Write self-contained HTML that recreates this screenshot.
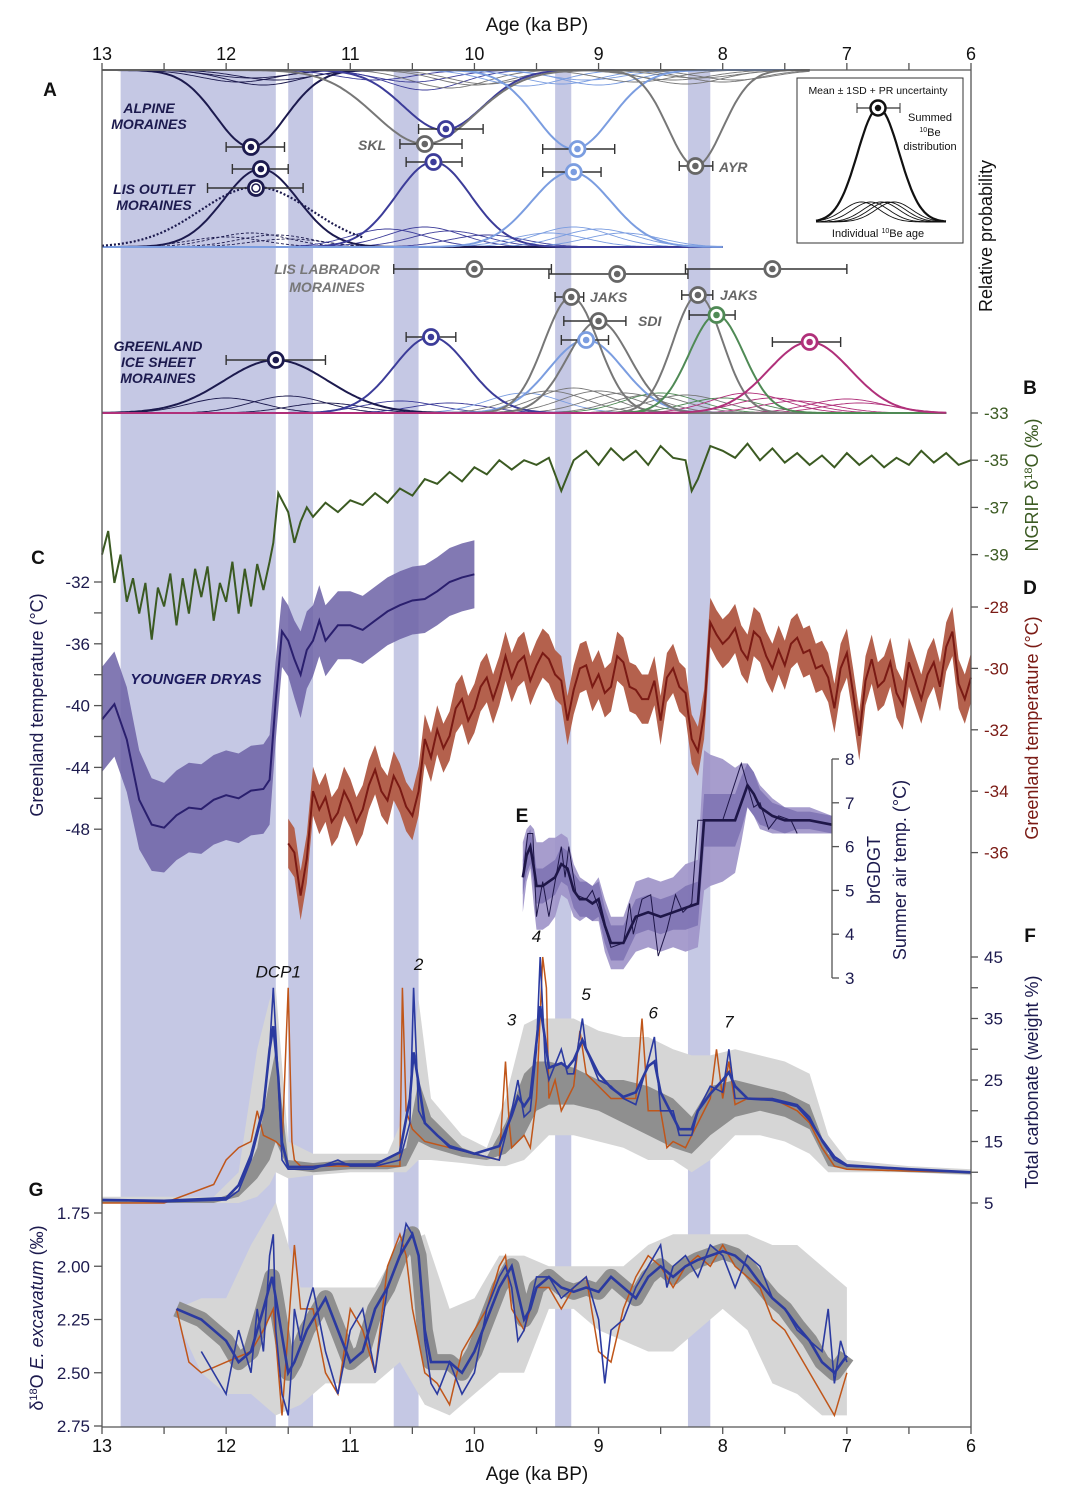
<!DOCTYPE html>
<html><head><meta charset="utf-8"><style>
html,body{margin:0;padding:0;background:#fff}
svg{display:block;font-family:"Liberation Sans",sans-serif}
</style></head><body>
<svg id="fig" width="1076" height="1502" viewBox="0 0 1076 1502" xmlns="http://www.w3.org/2000/svg"></svg>
<script>
// ---------- DATA ----------
const bandStart=[12.85,11.5,10.65,9.35,8.28];
const bandEnd=[11.6,11.3,10.45,9.22,8.1];
const alpMu=[11.8,10.25,10.4,9.2,8.22];
const alpSd=[0.28,0.32,0.4,0.3,0.22];
const alpAmp=[0.77,0.6,0.74,0.79,0.96];
const alpCol=["#1c1a4e","#3c3c99","#777777","#7b9de0","#777777"];
const alpThinMu=[11.9,11.7,11.6,11.8,10.8,10.4,10.2,10.0,10.5,9.9,9.6,9.3,9.0,9.1,8.7,8.4,8.3,8.0,7.9,8.2];
const alpThinAmp=[0.12,0.15,0.1,0.08,0.1,0.2,0.18,0.15,0.12,0.14,0.16,0.14,0.15,0.1,0.12,0.1,0.14,0.12,0.1,0.08];
const alpThinCol=["#1c1a4e","#1c1a4e","#1c1a4e","#1c1a4e","#3c3c99","#3c3c99","#777777","#777777","#3c3c99","#777777","#7b9de0","#7b9de0","#7b9de0","#7b9de0","#777777","#777777","#777777","#777777","#777777","#777777"];
const lisMu=[11.72,10.33,9.22];
const lisSd=[0.3,0.3,0.32];
const lisAmp=[0.78,0.85,0.75];
const lisCol=["#1c1a4e","#3c3c99","#7b9de0"];
const lisThinMu=[12.0,11.8,11.6,11.5,10.7,10.4,10.2,9.9,9.4,9.2,9.0,8.8];
const lisThinAmp=[0.1,0.14,0.12,0.08,0.18,0.2,0.16,0.12,0.14,0.2,0.18,0.14];
const lisThinCol=["#1c1a4e","#1c1a4e","#1c1a4e","#1c1a4e","#3c3c99","#3c3c99","#3c3c99","#3c3c99","#7b9de0","#7b9de0","#7b9de0","#7b9de0"];
const grMu=[11.6,10.35,9.1,9.22,9.0,8.2,8.05,7.3];
const grSd=[0.42,0.3,0.3,0.22,0.25,0.2,0.22,0.33];
const grAmp=[0.53,0.76,0.73,1.16,0.92,1.18,0.98,0.71];
const grCol=["#1c1a4e","#3c3c99","#7b9de0","#777777","#777777","#777777","#4f8a55","#b0307a"];
const grThinMu=[12.0,11.5,11.2,10.6,10.2,9.6,9.4,9.2,9.0,8.8,8.6,8.5,8.3,8.0,7.8,7.6,7.4,7.0,6.9];
const grThinAmp=[0.15,0.17,0.1,0.12,0.1,0.2,0.22,0.25,0.22,0.2,0.18,0.2,0.18,0.15,0.2,0.15,0.12,0.14,0.1];
const grThinCol=["#1c1a4e","#1c1a4e","#1c1a4e","#3c3c99","#3c3c99","#7b9de0","#777777","#777777","#777777","#777777","#777777","#4f8a55","#777777","#4f8a55","#b0307a","#b0307a","#b0307a","#b0307a","#b0307a"];
const mkAge=[11.8,10.23,10.4,9.17,8.22,11.72,11.76,10.33,9.2,10.0,8.85,7.6,11.6,10.35,9.1,9.22,9.0,8.2,8.05,7.3];
const mkY=[147,129,144,149,166,169,188,162,172,269,274,269,360,337,340,297,321,295,315,342];
const mkErrL=[12.0,10.45,10.6,9.45,8.35,11.95,12.15,10.55,9.45,10.65,9.4,8.3,12.0,10.55,9.3,9.35,9.28,8.33,8.27,7.6];
const mkErrR=[11.53,9.93,10.1,8.87,8.08,11.5,11.38,10.1,8.98,9.38,8.28,7.0,11.2,10.15,8.92,9.12,8.78,8.08,7.9,7.05];
const mkCol=["#1c1a4e","#3c3c99","#666","#7b9de0","#666","#1c1a4e","#1c1a4e","#3c3c99","#7b9de0","#666","#666","#666","#1c1a4e","#3c3c99","#7b9de0","#666","#666","#666","#4f8a55","#b0307a"];
const ngAge=[13.0,12.95,12.9,12.85,12.8,12.75,12.7,12.65,12.6,12.55,12.5,12.45,12.4,12.35,12.3,12.25,12.2,12.15,12.1,12.05,12.0,11.95,11.9,11.85,11.8,11.75,11.7,11.65,11.62,11.58,11.5,11.45,11.4,11.35,11.3,11.2,11.1,11.0,10.9,10.8,10.7,10.6,10.5,10.4,10.3,10.2,10.1,10.0,9.9,9.8,9.7,9.6,9.5,9.4,9.3,9.2,9.1,9.0,8.9,8.8,8.7,8.6,8.5,8.4,8.3,8.25,8.2,8.1,8.0,7.9,7.8,7.7,7.6,7.5,7.4,7.3,7.2,7.1,7.0,6.9,6.8,6.7,6.6,6.5,6.4,6.3,6.2,6.1,6.0];
const ngVal=[-39,-38.0,-40.2,-39.0,-41.0,-40.0,-41.5,-40.2,-42.6,-40.4,-41.2,-39.8,-42.0,-40.0,-41.5,-39.6,-40.8,-39.5,-41.8,-40.2,-41.0,-39.3,-41.5,-39.6,-41.2,-39.4,-40.5,-39.3,-38.5,-36.4,-37.2,-38.5,-37.6,-37.0,-37.4,-36.8,-37.2,-36.7,-36.9,-36.4,-36.8,-36.2,-36.5,-35.8,-36.0,-35.5,-35.9,-35.3,-35.6,-35.0,-35.4,-35.0,-35.2,-34.9,-36.3,-35.0,-34.6,-35.2,-34.5,-35.0,-34.6,-35.2,-34.4,-34.9,-35.0,-36.3,-35.8,-34.4,-34.6,-34.9,-34.3,-35.0,-34.5,-35.1,-34.7,-35.2,-34.8,-35.3,-34.7,-35.2,-34.8,-35.3,-34.9,-35.2,-34.6,-35.1,-34.7,-35.2,-35.0];
const cAge=[13.0,12.9,12.8,12.7,12.6,12.5,12.4,12.3,12.2,12.1,12.0,11.9,11.8,11.7,11.65,11.6,11.55,11.5,11.45,11.4,11.35,11.3,11.25,11.2,11.1,11.0,10.9,10.8,10.7,10.6,10.5,10.4,10.3,10.2,10.1,10.0];
const cVal=[-40.9,-39.9,-42.2,-46.1,-47.7,-47.9,-47.1,-46.6,-46.7,-46.1,-45.8,-46.0,-45.5,-45.4,-44.8,-39.6,-35.2,-35.8,-37.0,-38.0,-36.4,-35.8,-34.5,-35.8,-34.8,-34.8,-35.1,-34.5,-33.9,-33.5,-33.2,-33.1,-32.6,-32.0,-31.7,-31.5];
const cErr=[3.4,3.4,3.4,3.2,3.0,2.9,2.9,2.9,2.9,2.9,2.9,2.9,2.9,2.9,2.9,2.6,2.3,2.3,2.5,2.8,2.5,2.3,2.3,2.3,2.2,2.2,2.2,2.2,2.2,2.2,2.2,2.2,2.2,2.2,2.2,2.2];
const dAge=[11.5,11.45,11.4,11.35,11.3,11.25,11.2,11.15,11.1,11.05,11.0,10.95,10.9,10.85,10.8,10.75,10.7,10.65,10.6,10.55,10.5,10.45,10.4,10.35,10.3,10.25,10.2,10.15,10.1,10.05,10.0,9.95,9.9,9.85,9.8,9.75,9.7,9.65,9.6,9.55,9.5,9.45,9.4,9.35,9.3,9.25,9.2,9.15,9.1,9.05,9.0,8.95,8.9,8.85,8.8,8.75,8.7,8.65,8.6,8.55,8.5,8.45,8.4,8.35,8.3,8.25,8.2,8.15,8.1,8.05,8.0,7.95,7.9,7.85,7.8,7.75,7.7,7.65,7.6,7.55,7.5,7.45,7.4,7.35,7.3,7.25,7.2,7.15,7.1,7.05,7.0,6.95,6.9,6.85,6.8,6.75,6.7,6.65,6.6,6.55,6.5,6.45,6.4,6.35,6.3,6.25,6.2,6.15,6.1,6.05,6.0];
const dVal=[-35.7,-36.0,-37.4,-36.2,-34.0,-34.6,-34.2,-35.0,-34.7,-34.0,-34.4,-35.0,-34.6,-33.8,-33.3,-34.0,-34.3,-33.5,-33.9,-34.5,-34.8,-34.0,-32.3,-32.9,-32.0,-32.6,-32.2,-31.3,-31.0,-31.7,-31.3,-30.6,-30.3,-31.0,-30.4,-29.6,-30.3,-29.8,-29.6,-30.4,-29.9,-29.5,-29.7,-30.2,-30.4,-31.7,-30.7,-30.0,-29.9,-30.6,-30.2,-30.8,-30.6,-29.6,-29.8,-30.6,-30.7,-31.0,-31.0,-30.4,-31.7,-30.3,-30.0,-30.6,-30.8,-32.3,-32.7,-31.5,-28.5,-28.9,-29.2,-29.0,-28.7,-29.4,-29.7,-28.8,-29.0,-29.6,-30.0,-29.4,-29.9,-29.2,-29.0,-29.5,-29.4,-30.0,-29.9,-30.3,-31.3,-30.0,-29.5,-30.8,-32.2,-30.4,-29.7,-30.6,-30.4,-29.8,-30.8,-31.2,-29.8,-30.4,-31.0,-30.2,-29.8,-30.6,-29.3,-28.8,-30.5,-31.0,-30.3];
const dErr=0.8;
const eAge=[9.61,9.58,9.55,9.52,9.5,9.45,9.4,9.35,9.3,9.25,9.2,9.15,9.1,9.05,9.0,8.95,8.9,8.85,8.8,8.75,8.7,8.6,8.5,8.4,8.3,8.2,8.15,8.1,8.0,7.9,7.85,7.8,7.75,7.7,7.6,7.5,7.4,7.3,7.12];
const eVal=[5.3,5.8,6.0,5.5,5.1,5.1,5.2,5.3,5.6,5.5,5.0,4.8,4.8,4.7,4.8,4.2,3.8,3.8,3.8,4.1,4.4,4.5,4.4,4.5,4.6,4.7,6.6,6.6,6.6,6.6,7.0,7.4,7.2,6.9,6.7,6.6,6.6,6.6,6.5];
const eInner=[0.4,0.4,0.4,0.4,0.4,0.4,0.4,0.4,0.4,0.4,0.4,0.4,0.4,0.4,0.4,0.4,0.4,0.4,0.4,0.4,0.4,0.4,0.4,0.4,0.5,0.5,0.6,0.6,0.6,0.6,0.6,0.5,0.5,0.4,0.3,0.3,0.2,0.2,0.2];
const eOuter=[0.8,0.6,0.5,0.9,1.0,1.0,1.0,0.9,0.7,0.7,0.6,0.5,0.4,0.4,0.5,0.6,0.6,0.6,0.6,0.7,0.8,0.8,0.8,0.8,1.0,1.0,1.6,1.5,1.4,1.2,0.9,0.5,0.5,0.5,0.4,0.3,0.3,0.3,0.2];
const eRawAge=[9.61,9.57,9.53,9.5,9.45,9.4,9.35,9.3,9.27,9.24,9.18,9.1,9.05,9.0,8.9,8.8,8.75,8.72,8.65,8.58,8.52,8.45,8.38,8.32,8.25,8.2,8.0,7.85,7.75,7.7,7.63,7.55,7.45,7.4];
const eRawVal=[5.3,6.3,6.3,4.4,5.2,4.4,5.2,6.0,5.3,6.0,4.9,4.8,5.0,4.6,3.7,3.8,4.7,4.0,4.8,4.9,3.5,4.1,4.9,4.5,4.7,6.6,6.6,7.9,6.9,7.0,6.4,6.7,6.6,6.3];
const fAge=[13.0,12.5,12.0,11.9,11.8,11.7,11.65,11.62,11.58,11.55,11.5,11.3,11.1,11.0,10.8,10.6,10.52,10.49,10.45,10.4,10.3,10.2,10.0,9.8,9.7,9.65,9.6,9.55,9.5,9.47,9.43,9.4,9.3,9.25,9.2,9.13,9.1,9.0,8.9,8.8,8.7,8.6,8.55,8.5,8.4,8.35,8.25,8.2,8.1,8.0,7.95,7.9,7.8,7.6,7.4,7.3,7.2,7.1,7.0,6.5,6.0];
const fVal=[5.5,5.2,5.5,7,12,20,30,40,25,12,10.5,10.5,12,11,11,12,18,40,20,18,16,14,13,12,20,25,19,20,30,45,28,25,30,26,26,35,30,25,24,22,21,28,32,20,20,16,16,20,24,23,30,22,22,22,21,19,15,12,11,10.5,10];
const fOrAge=[13,12.5,12.1,12.0,11.9,11.8,11.75,11.7,11.6,11.55,11.5,11.47,11.45,11.4,11.0,10.6,10.58,10.55,10.5,10.4,10.2,10.0,9.8,9.75,9.72,9.7,9.6,9.55,9.5,9.45,9.42,9.4,9.35,9.3,9.25,9.2,9.15,9.1,9.0,8.9,8.8,8.7,8.65,8.6,8.5,8.45,8.4,8.3,8.2,8.1,8.05,8.0,7.95,7.9,7.8,7.6,7.4,7.3,7.2,7.1,7.0,6.5,6.0];
const fOrVal=[5,5,8,12,14,15,20,16,15,14,40,15,12,11,11,11,40,20,17,15,14,13,12,28,18,14,16,14,22,45,40,22,25,20,22,24,33,26,24,22,22,22,35,20,20,14,15,14,18,22,30,22,28,21,22,22,20,18,14,11,10.5,10.2,10];
const fBandAge=[13.0,12.1,11.9,11.75,11.65,11.6,11.5,11.3,11.0,10.7,10.55,10.45,10.35,10.1,9.9,9.75,9.6,9.5,9.4,9.2,9.0,8.8,8.6,8.4,8.25,8.1,7.9,7.7,7.5,7.3,7.15,7.0,6.5,6.0];
const fOutHi=[6,6,10,30,38,40,15,13,13,13,20,38,22,16,14,22,34,35,35,35,33,32,32,30,29,29,30,29,28,26,16,12,11,10.5];
const fOutLo=[5,5,5,6,8,10,9,9.5,10,10,10,12,12,11.5,11,11,12,14,16,16,15,14,12,12,10,12,16,16,15,13,10,10,10,9.5];
const fInHi=[5.5,5.5,7,14,25,30,12,11.5,12,12,14,25,19,14,12.5,18,26,28,28,27,25,25,24,22,19,24,25,24,23,21,13,11,10.5,10];
const fInLo=[5,5,6,9,12,15,10.5,10,10.5,10.5,11,15,14,12.5,12,13,16,20,21,21,20,18,16,14,13,16,19,20,19,17,11,10.5,10,9.7];
const fPeakLbl=["DCP1","2","3","4","5","6","7"];
const fPeakAge=[11.58,10.45,9.7,9.5,9.1,8.56,7.95];
const fPeakVal=[41.7,42.9,33.9,47.4,38,35,33.5];
const gAge=[12.4,12.2,12.0,11.9,11.8,11.7,11.63,11.6,11.5,11.45,11.35,11.3,11.2,11.1,11.0,10.9,10.8,10.7,10.6,10.5,10.45,10.4,10.35,10.2,10.1,10.0,9.9,9.8,9.7,9.6,9.55,9.5,9.4,9.3,9.2,9.1,9.0,8.9,8.8,8.7,8.6,8.5,8.4,8.3,8.2,8.1,8.0,7.9,7.8,7.7,7.6,7.5,7.4,7.3,7.2,7.1,7.0];
const gVal=[2.2,2.25,2.35,2.45,2.4,2.2,2.05,2.15,2.5,2.45,2.3,2.25,2.15,2.3,2.45,2.4,2.2,2.1,1.95,1.85,1.95,2.3,2.45,2.45,2.5,2.4,2.25,2.1,2.0,2.25,2.2,2.1,2.05,2.1,2.12,2.1,2.12,2.05,2.1,2.15,2.05,2.0,2.05,2.0,1.97,1.95,1.93,1.95,2.0,2.08,2.15,2.2,2.28,2.35,2.45,2.5,2.42];
const gRawAge=[12.2,12.0,11.9,11.8,11.75,11.7,11.65,11.62,11.6,11.55,11.5,11.47,11.45,11.4,11.35,11.3,11.2,11.1,11.0,10.9,10.8,10.7,10.6,10.55,10.5,10.45,10.4,10.35,10.3,10.2,10.1,10.0,9.9,9.8,9.75,9.7,9.65,9.6,9.5,9.4,9.3,9.2,9.1,9.0,8.95,8.9,8.8,8.7,8.6,8.5,8.45,8.4,8.3,8.2,8.1,8.0,7.9,7.8,7.7,7.6,7.5,7.4,7.3,7.2,7.15,7.1,7.05,7.0];
const gRawVal=[2.4,2.6,2.3,2.5,2.2,2.4,1.95,1.85,2.3,2.6,2.7,2.45,2.2,2.35,2.2,2.1,2.4,2.6,2.3,2.2,2.5,2.1,1.95,1.8,1.85,1.95,2.35,2.55,2.6,2.45,2.6,2.5,2.2,2.05,2.0,2.1,2.35,2.3,2.05,2.05,2.15,2.1,2.05,2.25,2.55,2.3,2.25,2.1,2.0,1.9,2.1,2.0,1.95,2.05,1.9,1.95,2.1,1.95,2.0,2.15,2.2,2.3,2.35,2.4,2.2,2.55,2.35,2.45];
const gOrAge=[12.4,12.3,12.2,12.0,11.8,11.7,11.62,11.55,11.5,11.45,11.4,11.3,11.2,11.1,11.0,10.9,10.8,10.7,10.6,10.55,10.5,10.45,10.4,10.3,10.2,10.1,10.0,9.9,9.8,9.75,9.7,9.6,9.5,9.4,9.3,9.2,9.1,9.0,8.9,8.8,8.7,8.6,8.5,8.4,8.3,8.2,8.1,8.0,7.9,7.8,7.7,7.6,7.5,7.4,7.3,7.2,7.1,7.0];
const gOrVal=[2.2,2.45,2.5,2.45,2.4,2.3,2.2,2.7,2.3,1.9,2.2,2.2,2.5,2.6,2.2,2.3,2.5,2.0,1.85,1.95,2.2,2.35,2.5,2.55,2.65,2.4,2.3,2.2,2.0,1.95,2.2,2.3,2.1,2.1,2.2,2.1,2.05,2.4,2.45,2.2,2.05,1.95,2.0,2.1,2.0,1.95,2.0,1.9,2.0,2.05,2.1,2.25,2.3,2.4,2.5,2.6,2.7,2.5];
const gBandAge=[12.4,12.2,12.0,11.8,11.6,11.4,11.2,11.0,10.8,10.6,10.4,10.2,10.0,9.8,9.6,9.4,9.2,9.0,8.8,8.6,8.4,8.2,8.0,7.8,7.6,7.4,7.2,7.0];
const gOutLo=[2.2,2.15,2.15,1.9,1.7,2.1,2.1,2.1,2.1,1.9,1.85,2.2,2.15,1.95,1.95,2.0,2.0,2.0,2.0,1.9,1.85,1.85,1.85,1.85,1.9,1.9,2.0,2.1];
const gOutHi=[2.25,2.5,2.6,2.6,2.7,2.65,2.55,2.55,2.55,2.45,2.65,2.7,2.6,2.5,2.5,2.2,2.2,2.3,2.35,2.4,2.4,2.3,2.2,2.3,2.55,2.6,2.7,2.7];
const ageTicks=[13,12,11,10,9,8,7,6];
const ngTicks=[-33,-35,-37,-39];
const cTicks=[-32,-36,-40,-44,-48];
const dTicks=[-28,-30,-32,-34,-36];
const eTicks=[8,7,6,5,4,3];
const fTicks=[45,35,25,15,5];
const gTicks=["1.75","2.00","2.25","2.50","2.75"];

// ---------- SCALES ----------
const X0=102,X1=971,TOP=70,BOT=1427;
const x=a=>X0+(13-a)*(X1-X0)/7;
const yNG=v=>413+(-33-v)*23.6;
const yC=v=>582+(-32-v)*15.45;
const yD=v=>607+(-28-v)*30.7;
const xE1=832;
const yE=v=>759+(8-v)*43.8;
const yF=v=>957+(45-v)*6.15;
const yG=v=>1213+(v-1.75)*213;
const svg=document.getElementById('fig');
const NS="http://www.w3.org/2000/svg";
function el(tag,attrs,parent){const e=document.createElementNS(NS,tag);for(const k in attrs)e.setAttribute(k,attrs[k]);(parent||svg).appendChild(e);return e;}
function txt(s,x0,y0,attrs,parent){const t=el('text',Object.assign({x:x0,y:y0},attrs),parent);t.textContent=s;return t;}
function pth(ages,vals,fy){const n=Math.min(ages.length,vals.length);let d="";for(let i=0;i<n;i++)d+=(i?"L":"M")+x(ages[i]).toFixed(1)+","+fy(vals[i]).toFixed(1);return d;}
function band(ages,lo,hi,fy){const n=Math.min(ages.length,lo.length,hi.length);let d="";for(let i=0;i<n;i++)d+=(i?"L":"M")+x(ages[i]).toFixed(1)+","+fy(hi[i]).toFixed(1);for(let i=n-1;i>=0;i--)d+="L"+x(ages[i]).toFixed(1)+","+fy(lo[i]).toFixed(1);return d+"Z";}

const gb=el('g',{});


for(let i=0;i<bandStart.length;i++){
  const r=el('rect',{x:x(bandStart[i]),y:TOP,width:x(bandEnd[i])-x(bandStart[i]),height:BOT-TOP,fill:'#c5c8e4'},gb);
  
  
}

// ---------- Panel A ----------
function gaussPath(mu,sd,amp,base,scale,dir,a0,a1){let d="";let first=true;for(let a=a0;a>=a1-1e-9;a-=0.02){const v=amp*Math.exp(-0.5*((a-mu)/sd)**2);d+=(first?"M":"L")+x(a).toFixed(1)+","+(base+dir*v*scale).toFixed(1);first=false;}return d;}
const gA=el('g',{});


for(let i=0;i<alpThinMu.length;i++){const p=el('path',{d:gaussPath(alpThinMu[i],0.3,alpThinAmp[i],TOP,100,1,13,7.3),fill:'none',stroke:alpThinCol[i],'stroke-width':0.9},gA);}
for(let i=0;i<alpMu.length;i++){const p=el('path',{d:gaussPath(alpMu[i],alpSd[i],alpAmp[i],TOP,100,1,13,7.3),fill:'none',stroke:alpCol[i],'stroke-width':2},gA);}
for(let i=0;i<lisThinMu.length;i++){const p=el('path',{d:gaussPath(lisThinMu[i],0.3,lisThinAmp[i],247,100,-1,13,8.0),fill:'none',stroke:lisThinCol[i],'stroke-width':0.9,'stroke-dasharray':i<4?'3,2':'none'},gA);}
for(let i=0;i<lisMu.length;i++){const p=el('path',{d:gaussPath(lisMu[i],lisSd[i],lisAmp[i],247,100,-1,13,8.0),fill:'none',stroke:lisCol[i],'stroke-width':2},gA);}
{const p=el('path',{d:gaussPath(11.76,0.45,0.6,247,100,-1,13,10.9),fill:'none',stroke:'#1c1a4e','stroke-width':2.2,'stroke-dasharray':'2,2'},gA);}
for(let i=0;i<grThinMu.length;i++){const p=el('path',{d:gaussPath(grThinMu[i],0.3,grThinAmp[i],413,100,-1,13,6.2),fill:'none',stroke:grThinCol[i],'stroke-width':0.9},gA);}
for(let i=0;i<grMu.length;i++){const p=el('path',{d:gaussPath(grMu[i],grSd[i],grAmp[i],413,100,-1,13,6.2),fill:'none',stroke:grCol[i],'stroke-width':2},gA);}
for(let i=0;i<mkAge.length;i++){
  const g=el('g',{},gA);
  
  
  const c=mkCol[i],yy=mkY[i];
  el('line',{x1:x(mkErrL[i]),x2:x(mkErrR[i]),y1:yy,y2:yy,stroke:'#333','stroke-width':1.4},g);
  el('line',{x1:x(mkErrL[i]),x2:x(mkErrL[i]),y1:yy-5,y2:yy+5,stroke:'#333','stroke-width':1.4},g);
  el('line',{x1:x(mkErrR[i]),x2:x(mkErrR[i]),y1:yy-5,y2:yy+5,stroke:'#333','stroke-width':1.4},g);
  el('circle',{cx:x(mkAge[i]),cy:yy,r:7.5,fill:'#fff',stroke:c,'stroke-width':2.8},g);
  if(i!==6) el('circle',{cx:x(mkAge[i]),cy:yy,r:3.3,fill:c},g);
  else el('circle',{cx:x(mkAge[i]),cy:yy,r:4,fill:'none',stroke:c,'stroke-width':1.5},g);
}
const lblA=[["ALPINE",149,113],["MORAINES",149,129],["LIS OUTLET",154,194],["MORAINES",154,210],["GREENLAND",158,351],["ICE SHEET",158,367],["MORAINES",158,383]];
lblA.forEach(l=>{const t=txt(l[0],l[1],l[2],{'font-size':14,'font-weight':'bold','font-style':'italic','text-anchor':'middle',fill:'#1c1a4e'});});
[["LIS LABRADOR",327,274],["MORAINES",327,292]].forEach(l=>{const t=txt(l[0],l[1],l[2],{'font-size':14,'font-weight':'bold','font-style':'italic','text-anchor':'middle',fill:'#777'});});
[["SKL",358,150],["AYR",719,172],["JAKS",590,302],["SDI",638,326],["JAKS",720,300]].forEach(l=>{const t=txt(l[0],l[1],l[2],{'font-size':14,'font-weight':'bold','font-style':'italic',fill:'#666'});});
const ins=el('g',{});


el('rect',{x:797,y:78,width:166,height:165,fill:'#fff',stroke:'#333','stroke-width':1},ins);
txt("Mean ± 1SD + PR uncertainty",878,94,{'font-size':10.5,'text-anchor':'middle',fill:'#111'},ins);
{let d="";for(let i=0;i<=60;i++){const u=i/60,px=816+u*130,v=Math.exp(-0.5*((u-0.48)/0.16)**2);d+=(i?"L":"M")+px.toFixed(1)+","+(222-v*114).toFixed(1);}el('path',{d:d,fill:'none',stroke:'#111','stroke-width':2.2},ins);
 [0.35,0.42,0.5,0.55,0.6].forEach(m=>{let d2="";for(let i=0;i<=60;i++){const u=i/60,px=816+u*130,v=Math.exp(-0.5*((u-m)/0.14)**2);d2+=(i?"L":"M")+px.toFixed(1)+","+(222-v*20).toFixed(1);}el('path',{d:d2,fill:'none',stroke:'#111','stroke-width':0.9},ins);});}
el('line',{x1:857,x2:900,y1:108,y2:108,stroke:'#333','stroke-width':1.2},ins);
el('line',{x1:857,x2:857,y1:103,y2:113,stroke:'#333'},ins);el('line',{x1:900,x2:900,y1:103,y2:113,stroke:'#333'},ins);
el('circle',{cx:878,cy:108,r:7.5,fill:'#fff',stroke:'#111','stroke-width':2.5},ins);el('circle',{cx:878,cy:108,r:3.2,fill:'#111'},ins);
txt("Summed",930,121,{'font-size':11,'text-anchor':'middle',fill:'#111'},ins);
const sb=txt("",930,136,{'font-size':11,'text-anchor':'middle',fill:'#111'},ins);sb.innerHTML='<tspan font-size="7" dy="-4">10</tspan><tspan dy="4">Be</tspan>';
txt("distribution",930,150,{'font-size':11,'text-anchor':'middle',fill:'#111'},ins);
const ib=txt("",878,237,{'font-size':11,'text-anchor':'middle',fill:'#111'},ins);ib.innerHTML='Individual <tspan font-size="7" dy="-4">10</tspan><tspan dy="4">Be age</tspan>';

// ---------- Panel C ----------
{const b=el('path',{d:band(cAge,cVal.map((v,i)=>v-cErr[i]),cVal.map((v,i)=>v+cErr[i]),yC),fill:'#6c62a6','fill-opacity':0.85});
 const l=el('path',{d:pth(cAge,cVal,yC),fill:'none',stroke:'#2a1f6e','stroke-width':2});}
{const t=txt("YOUNGER DRYAS",196,684,{'font-size':15,'font-weight':'bold','font-style':'italic','text-anchor':'middle',fill:'#1c1a5e'});}
// ---------- Panel B ----------
{const l=el('path',{d:pth(ngAge,ngVal,yNG),fill:'none',stroke:'#3b5a22','stroke-width':2});}
// ---------- Panel D ----------
{const b=el('path',{d:band(dAge,dVal.map(v=>v-dErr),dVal.map(v=>v+dErr),yD),fill:'#b4614d'});
 const l=el('path',{d:pth(dAge,dVal,yD),fill:'none',stroke:'#7a1a14','stroke-width':2});}
// ---------- Panel E ----------
{const b1=el('path',{d:band(eAge,eVal.map((v,i)=>v-eOuter[i]),eVal.map((v,i)=>v+eOuter[i]),yE),fill:'#9d92c8','fill-opacity':0.9});
 const b2=el('path',{d:band(eAge,eVal.map((v,i)=>v-eInner[i]),eVal.map((v,i)=>v+eInner[i]),yE),fill:'#7a6fb0','fill-opacity':0.8});
 const r=el('path',{d:pth(eRawAge,eRawVal,yE),fill:'none',stroke:'#1e1648','stroke-width':1});
 const l=el('path',{d:pth(eAge,eVal,yE),fill:'none',stroke:'#1e1648','stroke-width':2.6});}
// ---------- Panel F ----------
{const b1=el('path',{d:band(fBandAge,fOutLo,fOutHi,yF),fill:'#d6d6d6'});
 const b2=el('path',{d:band(fBandAge,fInLo,fInHi,yF),fill:'#8f8f8f'});
 const o=el('path',{d:pth(fOrAge,fOrVal,yF),fill:'none',stroke:'#c0561a','stroke-width':1.5});
 const r=el('path',{d:pth(fAge,fVal,yF),fill:'none',stroke:'#2b3aa0','stroke-width':1.6});
 const sm=fVal.map((v,i)=>i>0&&i<fVal.length-1?(fVal[i-1]+2*v+fVal[i+1])/4:v);
 const l=el('path',{d:pth(fAge,sm,yF),fill:'none',stroke:'#2b3aa0','stroke-width':2.6});
 for(let i=0;i<fPeakLbl.length;i++){const t=txt(fPeakLbl[i],x(fPeakAge[i]),yF(fPeakVal[i]),{'font-size':17,'font-style':'italic','text-anchor':'middle',fill:'#111'});}}
// ---------- Panel G ----------
{const b1=el('path',{d:band(gBandAge,gOutLo,gOutHi,yG),fill:'#d6d6d6'});
 const b2=el('path',{d:pth(gAge,gVal,yG),fill:'none',stroke:'#8f8f8f','stroke-width':16,'stroke-linejoin':'round'});
 const o=el('path',{d:pth(gOrAge,gOrVal,yG),fill:'none',stroke:'#c0561a','stroke-width':1.5});
 const r=el('path',{d:pth(gRawAge,gRawVal,yG),fill:'none',stroke:'#2b3aa0','stroke-width':1.6});
 const l=el('path',{d:pth(gAge,gVal,yG),fill:'none',stroke:'#2b3aa0','stroke-width':2.6});}

// ---------- AXES ----------
const ax=el('g',{stroke:'#555','stroke-width':1.3,fill:'none'});


el('line',{x1:X0,x2:X1,y1:TOP,y2:TOP},ax);el('line',{x1:X0,x2:X1,y1:BOT,y2:BOT},ax);
el('line',{x1:X0,x2:X0,y1:TOP,y2:BOT},ax);el('line',{x1:X1,x2:X1,y1:TOP,y2:BOT},ax);
for(let a=13;a>=6;a-=0.5){el('line',{x1:x(a),x2:x(a),y1:TOP,y2:TOP-7},ax);el('line',{x1:x(a),x2:x(a),y1:BOT,y2:BOT+7},ax);}
ageTicks.forEach(a=>{const t1=txt(String(a),x(a),60,{'font-size':18,'text-anchor':'middle',fill:'#111'});
 const t2=txt(String(a),x(a),1452,{'font-size':18,'text-anchor':'middle',fill:'#111'});});
{const t=txt("Age (ka BP)",537,31,{'font-size':19,'text-anchor':'middle',fill:'#111'});
 const t2=txt("Age (ka BP)",537,1480,{'font-size':19,'text-anchor':'middle',fill:'#111'});}
function rtick(yy,label,col,name){el('line',{x1:X1,x2:X1+7,y1:yy,y2:yy},ax);if(label!==null){const t=txt(label,984,yy+6,{'font-size':17,fill:col});}}
ngTicks.forEach(v=>rtick(yNG(v),String(v),'#3b5a22','ngrip-tick-label'));
dTicks.forEach(v=>rtick(yD(v),String(v),'#7a1a14','d-temp-tick-label'));
fTicks.forEach(v=>rtick(yF(v),String(v),'#1c1a4e','carbonate-tick-label'));
fTicks.slice(0,4).forEach(v=>rtick(yF(v-5),null));
function ltick(yy,label,name){el('line',{x1:X0-8,x2:X0,y1:yy,y2:yy},ax);if(label!==null){const t=txt(label,90,yy+6,{'font-size':17,fill:'#1c1a4e','text-anchor':'end'});}}
cTicks.forEach(v=>ltick(yC(v),String(v),'c-temp-tick-label'));
cTicks.slice(0,4).forEach(v=>ltick(yC(v-2),null));
gTicks.forEach(v=>ltick(yG(parseFloat(v)),v,'d18o-tick-label'));
el('line',{x1:xE1,x2:xE1,y1:yE(8),y2:yE(3)},ax);
eTicks.forEach(v=>{el('line',{x1:xE1,x2:xE1+7,y1:yE(v),y2:yE(v)},ax);const t=txt(String(v),845,yE(v)+6,{'font-size':17,fill:'#1c1a4e'});});
function rot(s,cx,cy,col,fs,name,html){const t=txt("",cx,cy,{'font-size':fs,fill:col,'text-anchor':'middle',transform:`rotate(-90 ${cx} ${cy})`});if(html)t.innerHTML=s;else t.textContent=s;}
rot("Relative probability",992,236,'#111',18,'relative-probability-title');
rot('NGRIP δ<tspan font-size="11" dy="-6">18</tspan><tspan dy="6">O (‰)</tspan>',1038,485,'#3b5a22',18,'ngrip-axis-title',true);
rot("Greenland temperature (°C)",1038,728,'#7a1a14',18,'d-temp-axis-title');
rot("Total carbonate (weight %)",1038,1082,'#1c1a4e',18,'carbonate-axis-title');
rot("Greenland temperature (°C)",43,705,'#1c1a4e',18,'c-temp-axis-title');
rot('δ<tspan font-size="11" dy="-6">18</tspan><tspan dy="6">O </tspan><tspan font-style="italic">E. excavatum</tspan> (‰)',43,1318,'#1c1a4e',18,'d18o-axis-title',true);
rot("brGDGT",880,870,'#1c1a4e',18,'brgdgt-axis-title');
rot("Summer air temp. (°C)",906,870,'#1c1a4e',18,'summer-temp-axis-title');
[["A",50,96],["B",1030,394],["C",38,564],["D",1030,594],["E",522,822],["F",1030,942],["G",36,1196]].forEach(p=>{const t=txt(p[0],p[1],p[2],{'font-size':19,'font-weight':'bold','text-anchor':'middle',fill:'#111'});});
</script>
</body></html>
